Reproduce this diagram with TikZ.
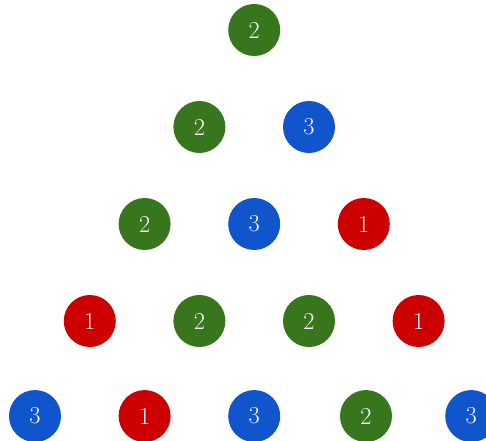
\documentclass[tikz,border=0pt]{standalone}
\usetikzlibrary{positioning}
\definecolor{LeafGreen}{RGB}{56,118,29}
\definecolor{LeafBlue} {RGB}{17,85,204}
\definecolor{LeafRed}  {RGB}{204,0,0}
\tikzset{
  %% 圆点：按数字上色
  dotbase/.style={circle,minimum size=1.3cm,inner sep=0pt,
                  text=white,font=\LARGE},
  dotG/.style={dotbase,fill=LeafGreen},
  dotB/.style={dotbase,fill=LeafBlue},
  dotR/.style={dotbase,fill=LeafRed},
}
\begin{document}
\begin{tikzpicture}[x=1.37cm,y=2.425cm]
        \useasboundingbox (-0.875cm,0.75cm) rectangle (11.275cm,-10.275cm);
        %% 第 1 行
        \node[dotG] (r1a) at (4,0) {2};
        %% 第 2 行
        \node[dotG] (r2a) at (3,-1) {2};
        \node[dotB] (r2b) at (5,-1) {3};
        %% 第 3 行
        \node[dotG] (r3a) at (2,-2) {2};
        \node[dotB] (r3b) at (4,-2) {3};
        \node[dotR] (r3c) at (6,-2) {1};
        %% 第 4 行
        \node[dotR] (r4a) at (1,-3) {1};
        \node[dotG] (r4b) at (3,-3) {2};
        \node[dotG] (r4c) at (5,-3) {2};
        \node[dotR] (r4d) at (7,-3) {1};
        %% 第 5 行
        \node[dotB] (r5a) at (0,-3.98) {3};
        \node[dotR] (r5b) at (2,-3.98) {1};
        \node[dotB] (r5c) at (4,-3.98) {3};
        \node[dotG] (r5d) at (6.04,-3.98) {2};
        \node[dotB] (r5e) at (7.96,-3.98) {3};
      \end{tikzpicture}
\end{document}
